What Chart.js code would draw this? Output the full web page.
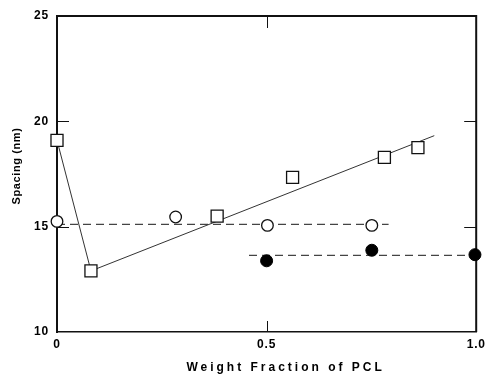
<!DOCTYPE html>
<html>
<head>
<meta charset="utf-8">
<script src="https://cdn.jsdelivr.net/npm/chart.js@4"></script>
<style>
html, body { margin: 0; padding: 0; background: #fff; }
#wrap { width: 486px; height: 374px; }
</style>
</head>
<body>
<div id="wrap"><canvas id="myChart"></canvas></div>
<script>
// data
const squareX = [0, 0.081, 0.382, 0.562, 0.781, 0.861]
const squareY = [19.1, 12.9, 15.5, 17.34, 18.29, 18.75]
const squareFitX = [0, 0.081, 0.9]
const squareFitY = [19.1, 12.9, 19.32]
const openX = [0, 0.283, 0.502, 0.751]
const openY = [15.25, 15.46, 15.06, 15.06]
const openLineX = [0, 0.791]
const openLineY = [15.11, 15.11]
const filledX = [0.5, 0.751, 0.997]
const filledY = [13.38, 13.88, 13.67]
const filledLineX = [0.458, 1.0]
const filledLineY = [13.64, 13.64]
const xTicks = [0, 0.5, 1.0]
const xTickLabels = ['0', '0.5', '1.0']
const yTicks = [10, 15, 20, 25]
const yTickLabels = ['10', '15', '20', '25']
const xTitle = 'Weight Fraction of PCL'
const yTitle = 'Spacing (nm)'

const pts = (xs, ys) => xs.map((x, i) => ({x: x, y: ys[i]}))
const FONT = '"Liberation Sans", Arial, sans-serif'

const framePlugin = {
    id: 'frame',
    beforeDraw(chart) {
        chart.ctx.letterSpacing = '0.8px'
    },
    beforeDatasetsDraw(chart) {
        const {ctx, chartArea: a} = chart
        const xs = chart.scales.x, ys = chart.scales.y
        ctx.save()
        ctx.strokeStyle = '#111'
        ctx.lineWidth = 2
        ctx.beginPath()
        ctx.moveTo(a.left, a.top)
        ctx.lineTo(a.right, a.top)
        ctx.lineTo(a.right, a.bottom)
        ctx.stroke()
        ctx.lineWidth = 1
        ctx.beginPath()
        xTicks.slice(1, -1).forEach(v => {
            const px = Math.round(xs.getPixelForValue(v)) + 0.5
            ctx.moveTo(px, a.bottom); ctx.lineTo(px, a.bottom - 11)
            ctx.moveTo(px, a.top); ctx.lineTo(px, a.top + 12)
        })
        yTicks.slice(1, -1).forEach(v => {
            const py = Math.round(ys.getPixelForValue(v)) + 0.5
            ctx.moveTo(a.left, py); ctx.lineTo(a.left + 12, py)
            ctx.moveTo(a.right, py); ctx.lineTo(a.right - 12, py)
        })
        ctx.stroke()
        ctx.restore()
    },
    afterDraw(chart) {
        const {ctx, chartArea: a} = chart
        ctx.save()
        ctx.fillStyle = '#000'
        ctx.textAlign = 'center'
        ctx.textBaseline = 'middle'
        ctx.font = 'bold 12px ' + FONT
        ctx.letterSpacing = '3px'
        ctx.fillText(xTitle, (a.left + a.right) / 2 + 19, 368)
        ctx.translate(17, (a.top + a.bottom) / 2 - 8)
        ctx.rotate(-Math.PI / 2)
        ctx.font = 'bold 11px ' + FONT
        ctx.letterSpacing = '0.6px'
        ctx.fillText(yTitle, 0, 0)
        ctx.restore()
    }
}

const ctx = document.getElementById('myChart')
new Chart(ctx, {
    type: 'scatter',
    data: {
        datasets: [{
            data: pts(squareX, squareY),
            pointStyle: 'rect',
            pointRadius: 8.5,
            pointBackgroundColor: '#fff',
            pointBorderColor: '#111',
            pointBorderWidth: 1.3,
            clip: false,
        }, {
            data: pts(openX, openY),
            pointStyle: 'circle',
            pointRadius: 5.8,
            pointBackgroundColor: '#fff',
            pointBorderColor: '#111',
            pointBorderWidth: 1.3,
            clip: false,
        }, {
            data: pts(filledX, filledY),
            pointStyle: 'circle',
            pointRadius: 6,
            pointBackgroundColor: '#000',
            pointBorderColor: '#000',
            pointBorderWidth: 1,
            clip: false,
        }, {
            data: pts(squareFitX, squareFitY),
            showLine: true,
            pointRadius: 0,
            borderColor: '#333',
            borderWidth: 1,
        }, {
            data: pts(openLineX, openLineY),
            showLine: true,
            pointRadius: 0,
            borderColor: '#444',
            borderWidth: 1.2,
            borderDash: [8, 5],
        }, {
            data: pts(filledLineX, filledLineY),
            showLine: true,
            pointRadius: 0,
            borderColor: '#444',
            borderWidth: 1.2,
            borderDash: [8, 5],
        }]
    },
    options: {
        responsive: true,
        maintainAspectRatio: false,
        animation: false,
        events: [],
        layout: { padding: { top: 16, right: 8, left: 0, bottom: 0 } },
        scales: {
            x: {
                type: 'linear',
                min: 0,
                max: 1,
                afterFit: (s) => { s.height = 42; s.paddingLeft = 0; s.paddingRight = 0 },
                afterBuildTicks: (s) => { s.ticks = xTicks.map(v => ({value: v})) },
                grid: { display: true, drawOnChartArea: false, drawTicks: false },
                border: { display: true, color: '#111', width: 1.5 },
                ticks: {
                    padding: 5,
                    maxRotation: 0,
                    color: '#000',
                    font: { family: FONT, size: 12, weight: 'bold' },
                    callback: (v, i) => xTickLabels[i]
                }
            },
            y: {
                type: 'linear',
                min: 10,
                max: 25,
                afterFit: (s) => { s.width = 57; s.paddingTop = 0; s.paddingBottom = 0 },
                afterBuildTicks: (s) => { s.ticks = yTicks.map(v => ({value: v})) },
                grid: { display: true, drawOnChartArea: false, drawTicks: false },
                border: { display: true, color: '#111', width: 2 },
                ticks: {
                    padding: 8,
                    color: '#000',
                    font: { family: FONT, size: 12, weight: 'bold' },
                    callback: (v, i) => yTickLabels[i]
                }
            }
        },
        plugins: {
            legend: { display: false },
            tooltip: { enabled: false }
        }
    },
    plugins: [framePlugin]
})
</script>
</body>
</html>
